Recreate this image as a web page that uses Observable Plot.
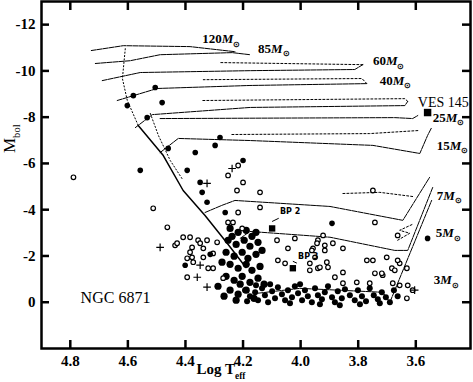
<!DOCTYPE html>
<html><head><meta charset="utf-8">
<script src="https://cdn.jsdelivr.net/npm/d3@7"></script>
<script src="https://cdn.jsdelivr.net/npm/@observablehq/plot@0.6"></script>
<style>body{margin:0;background:#fff} svg{display:block}</style>
</head><body><div id="chart"></div>
<script>
// ---- axis ticks ----
const xTicks = [4.8, 4.6, 4.4, 4.2, 4.0, 3.8, 3.6];
const yTicks = [-12, -10, -8, -6, -4, -2, 0];

// ---- evolutionary tracks [logTeff, Mbol] ----
const track120 = [[4.727,-10.88],[4.616,-11.09],[4.384,-11.05],[4.228,-10.83]];
const track85  = [[4.713,-10.32],[4.592,-10.44],[4.488,-10.70],[4.238,-10.79],[4.176,-10.70]];
const track60  = [[4.689,-9.58],[4.557,-9.93],[4.176,-10.01],[3.812,-10.06],[3.784,-10.27]];
const loop60   = [[3.784,-10.27],[4.280,-10.36]];
const track40  = [[4.637,-8.72],[4.498,-9.24],[4.176,-9.37],[3.770,-9.45]];
const loop40   = [[3.770,-9.45],[3.787,-9.67],[4.338,-9.62]];
const track25  = [[4.574,-7.55],[4.515,-8.11],[4.176,-8.42],[3.638,-8.50],[3.628,-8.68]];
const loop25   = [[3.628,-8.68],[3.638,-8.80],[4.340,-8.72]];
const track25b = [[4.488,-7.94],[3.673,-7.98],[3.611,-7.94],[3.593,-8.07]];
const track15  = [[4.488,-6.47],[4.425,-7.08],[4.176,-6.99],[3.749,-6.78],[3.586,-6.43],[3.559,-7.21],[3.545,-7.55]];
const loop15   = [[3.593,-7.42],[3.760,-7.29],[4.245,-7.25]];
const track7   = [[4.332,-3.88],[4.273,-4.19],[4.228,-4.40],[3.898,-4.14],[3.645,-3.54],[3.552,-5.40]];
const loop7    = [[3.611,-4.57],[3.725,-4.75],[3.853,-4.70]];
const track5   = [[4.210,-2.76],[4.176,-3.06],[3.898,-2.81],[3.673,-2.24],[3.628,-2.24],[3.541,-4.97]];
const loop5    = [[3.663,-2.68],[3.621,-2.98],[3.656,-3.11],[3.611,-3.37]];
const track3   = [[4.148,-0.39],[4.002,-0.60],[3.715,-0.43],[3.690,0.00],[3.545,-4.40]];
const zamsUpper = [[4.609,-10.96],[4.619,-9.67],[4.602,-8.72],[4.564,-7.64]];
const zams      = [[4.564,-7.64],[4.477,-6.34],[4.408,-4.83],[4.332,-3.75],[4.255,-2.55],[4.190,-1.50]];
const tams      = [[4.522,-8.16],[4.494,-7.21],[4.453,-6.13],[4.408,-5.27]];

// ---- track labels ----
const massLabels = ["120","85","60","40","25","15","7","5","3"];
const massLabelX = [4.342, 4.148, 3.749, 3.725, 3.541, 3.527, 3.527, 3.531, 3.538];
const massLabelY = [-11.39, -10.96, -10.44, -9.58, -7.98, -6.78, -4.62, -2.98, -0.95];

// ---- stars [logTeff, Mbol] ----
const starsFilled = [[4.505,-9.28],[4.581,-8.93],[4.602,-8.50],[4.533,-7.98],[4.481,-8.63],[4.557,-5.70],
  [4.460,-6.65],[4.366,-6.47],[4.297,-6.78],[4.280,-7.12],[4.394,-5.70],[4.349,-5.18],[4.342,-4.75],
  [4.325,-4.32],[4.262,-3.88],[4.200,-6.13],[3.891,-3.41],[3.559,-2.76],[4.401,-1.60],[4.314,-2.07]];
const starsOpen = [[4.789,-5.40],[4.512,-4.06],[4.463,-3.24],[4.436,-2.46],[4.384,-2.81],[4.356,-2.68],
  [4.325,-2.68],[4.290,-2.59],[4.377,-2.37],[4.338,-2.33],[4.377,-1.94],[4.304,-1.47],[4.217,-5.91],
  [4.252,-5.48],[4.200,-5.18],[4.221,-4.83],[4.141,-4.75],[4.252,-3.45],[4.235,-3.45],[4.203,-3.19],
  [4.217,-3.88],[4.141,-4.10],[4.082,-2.68],[4.020,-2.76],[3.940,-2.68],[3.916,-2.46],[3.749,-4.83],
  [3.742,-3.45],[3.663,-2.89],[4.044,-2.33],[3.957,-2.33],[4.079,-1.81],[4.054,-1.68],[3.950,-1.94],
  [3.940,-1.47],[3.968,-1.38],[3.905,-1.51],[3.853,-1.29],[3.881,-1.08],[3.770,-1.81],[3.749,-1.81],
  [3.701,-1.94],[3.656,-1.68],[3.631,-1.47],[3.742,-1.25],[3.715,-1.17],[3.683,-1.47],[3.805,-0.86],
  [3.760,-0.82],[3.680,-0.82],[3.611,-0.52],[4.321,-1.47],[4.269,-1.04],[4.429,-2.55],[4.394,-1.90],
  [4.384,-2.16],[4.373,-1.73],[4.338,-1.94],[4.304,-2.11],[4.408,-2.81],[4.349,-2.55],[4.394,-1.08],
  [3.922,-2.89],[3.943,-2.55],[3.961,-2.24],[3.916,-2.24],[3.888,-2.55],[3.853,-2.33],[3.968,-1.68],
  [3.933,-1.51],[3.909,-1.73],[3.853,-0.82],[3.718,-1.25],[3.673,-1.38],[3.663,-1.81],[3.656,-0.73],
  [3.628,-0.73],[3.631,-0.17]];
const starsPlus = [[4.325,-5.14],[4.325,-0.65],[4.488,-2.37],[4.359,-1.08],[4.349,-1.60],[3.604,-0.52],[4.238,-5.78]];
const clusterCore = [[4.245,-3.19],[4.217,-3.02],[4.189,-3.11],[4.169,-2.85],[4.252,-2.68],[4.224,-2.50],
  [4.196,-2.68],[4.176,-2.42],[4.148,-2.59],[4.259,-2.16],[4.231,-1.99],[4.203,-2.16],[4.183,-1.90],
  [4.155,-2.07],[4.134,-2.24],[4.245,-1.64],[4.217,-1.47],[4.189,-1.64],[4.169,-1.38],[4.141,-1.55],
  [4.259,-1.12],[4.231,-0.95],[4.203,-1.12],[4.176,-0.86],[4.148,-1.04],[4.127,-0.78],[4.245,-0.52],
  [4.217,-0.35],[4.189,-0.52],[4.224,-0.09],[4.162,-0.17],[4.210,-0.78],[4.238,-2.85],[4.155,-3.02],
  [4.273,-1.73],[4.287,-0.69],[4.266,-0.26]];
const clusterBand = [[4.193,-0.52],[4.176,-0.26],[4.158,-0.43],[4.148,-0.09],[4.134,-0.60],[4.124,-0.30],
  [4.113,0.00],[4.099,-0.47],[4.089,-0.17],[4.079,-0.65],[4.065,-0.35],[4.054,-0.09],[4.044,-0.52],
  [4.030,-0.22],[4.020,-0.69],[4.009,-0.39],[3.995,-0.09],[3.985,-0.52],[3.975,-0.26],[3.961,0.00],
  [3.950,-0.60],[3.940,-0.30],[3.926,-0.13],[3.916,-0.43],[3.905,-0.69],[3.891,-0.22],[3.881,0.00],
  [3.871,-0.47],[3.857,-0.17],[3.846,-0.56],[3.829,-0.30],[3.812,-0.09],[3.801,-0.52],[3.787,-0.26],
  [3.773,-0.04],[3.760,-0.60],[3.746,-0.30],[3.732,-0.13],[3.718,-0.43],[3.704,-0.22],[3.690,0.00],
  [3.676,-0.52],[3.663,-0.26],[4.186,-0.04],[4.155,-0.73],[4.106,-0.78],[4.037,0.04],[4.002,-0.78],
  [3.933,0.09],[3.864,0.13],[3.794,0.09],[3.725,0.04]];
const vesStar = [[3.559,-8.20]];
const bpStars = [[4.099,-3.19],[4.027,-1.47]];
const bpNames = ["BP 2","BP 3"];
const bpLabelPos = [[4.072,-3.93],[4.009,-1.99]];

// ---- build ----
const W = 473, H = 382, mL = 41, mR = 3, mT = 1, mB = 34;
const innerW = W - mL - mR, innerH = H - mT - mB;
const rows = (arr, name) => arr.map(([logT, M]) => ({logT, M, name}));
const mainTracks = [
  ...rows(track120,"120"), ...rows(track85,"85"), ...rows(track60,"60"), ...rows(track40,"40"),
  ...rows(track25,"25"), ...rows(track25b,"25b"), ...rows(track15,"15"), ...rows(track7,"7"),
  ...rows(track5,"5"), ...rows(track3,"3")];
const loopTracks = [...rows(loop60,"60"), ...rows(loop40,"40"), ...rows(loop25,"25"),
  ...rows(loop15,"15"), ...rows(loop7,"7"), ...rows(loop5,"5")];
const dottedLines = [...rows(zamsUpper,"zu"), ...rows(tams,"tams")];
const labelRows = massLabels.map((m, i) => ({t: `${m}*M*_{⊙}`, logT: massLabelX[i], M: massLabelY[i]}));
const pxy = {x: "logT", y: "M"};

const chart = Plot.plot({
  width: W, height: H, marginLeft: mL, marginRight: mR, marginTop: mT, marginBottom: mB,
  style: {fontFamily: "'Liberation Serif', 'Times New Roman', serif", background: "white", color: "black"},
  x: {domain: [4.9, 3.41]},
  y: {domain: [2, -13]},
  marks: [
    Plot.line(dottedLines, {...pxy, z: "name", stroke: "black", strokeWidth: 1, strokeDasharray: "1.2,2.2"}),
    Plot.line(rows(zams,"zams"), {...pxy, stroke: "black", strokeWidth: 1.5}),
    Plot.line(mainTracks, {...pxy, z: "name", stroke: "black", strokeWidth: 1, strokeDasharray: "5,1"}),
    Plot.line(loopTracks, {...pxy, z: "name", stroke: "black", strokeWidth: 1, strokeDasharray: "2,2"}),
    Plot.dot(rows(clusterCore,"c"), {...pxy, r: 3.6, fill: "black"}),
    Plot.dot(rows(clusterBand,"b"), {...pxy, r: 3, fill: "black"}),
    Plot.dot(rows(starsOpen,"o"), {...pxy, r: 2.3, stroke: "black", strokeWidth: 1.2, fill: "white"}),
    Plot.dot(rows(starsFilled,"f"), {...pxy, r: 2.8, fill: "black"}),
    Plot.dot(rows(starsPlus,"p"), {...pxy, symbol: "plus", r: 2.6, stroke: "black", strokeWidth: 1.2}),
    Plot.dot(rows(vesStar,"v"), {...pxy, symbol: "square", r: 4.2, fill: "black"}),
    Plot.dot(rows(bpStars,"bp"), {...pxy, symbol: "square", r: 3.6, fill: "black"}),
    Plot.link(bpStars.map((s, i) => ({x1: bpLabelPos[i][0] + 0.004, y1: bpLabelPos[i][1] + 0.3, x2: s[0], y2: s[1] - 0.3})),
      {x1: "x1", y1: "y1", x2: "x2", y2: "y2", stroke: "black", strokeWidth: 1}),
    Plot.text(bpNames.map((n, i) => ({t: n, logT: bpLabelPos[i][0], M: bpLabelPos[i][1]})),
      {...pxy, text: "t", fontSize: 8, fontWeight: "bold", fontFamily: "'DejaVu Sans', sans-serif", textAnchor: "start"}),
    Plot.text(labelRows, {...pxy, text: "t", textAnchor: "start", fontSize: 13, fontWeight: "bold"}),
    Plot.text([{t: "VES 145", logT: 3.593, M: -8.63}], {...pxy, text: "t", textAnchor: "start", fontSize: 14}),
    Plot.text([{t: "NGC 6871", logT: 4.643, M: -0.17}], {...pxy, text: "t", textAnchor: "middle", fontSize: 16}),
    Plot.frame({stroke: "black", strokeWidth: 2.5}),
    Plot.ruleX(xTicks, {insetTop: innerH - 8, stroke: "black", strokeWidth: 2.5}),
    Plot.ruleX(xTicks, {insetBottom: innerH - 9, stroke: "black", strokeWidth: 2.5}),
    Plot.ruleY(yTicks, {insetRight: innerW - 8, stroke: "black", strokeWidth: 2.5}),
    Plot.ruleY(yTicks, {insetLeft: innerW - 8, stroke: "black", strokeWidth: 2.5}),
    Plot.axisX(xTicks, {tickSize: 0, tickPadding: 7, fontSize: 15, fontWeight: "bold", tickFormat: d => d.toFixed(1), label: null}),
    Plot.axisY(yTicks, {tickSize: 0, tickPadding: 6, fontSize: 15, fontWeight: "bold", tickFormat: d => String(d), label: null}),
    Plot.text(["Log T_{eff}"], {frameAnchor: "bottom", lineAnchor: "middle", dx: -35, dy: 21, fontSize: 15, fontWeight: "bold"}),
    Plot.text(["M_{bol}"], {frameAnchor: "left", lineAnchor: "middle", rotate: -90, dx: -32, dy: -22, fontSize: 17})
  ]
});
document.getElementById("chart").appendChild(chart);

// rich text: *italic* and _{subscript}
chart.querySelectorAll("text").forEach(el => {
  const s = el.textContent;
  if (!/\*|_\{/.test(s)) return;
  const fs = parseFloat(getComputedStyle(el).fontSize) || 13;
  while (el.firstChild) el.removeChild(el.firstChild);
  const re = /\*([^*]+)\*|_\{([^}]+)\}|([^*_]+)/g;
  let m, shifted = false;
  while ((m = re.exec(s))) {
    const t = document.createElementNS("http://www.w3.org/2000/svg", "tspan");
    if (m[1] !== undefined) { t.textContent = m[1]; t.setAttribute("font-style", "italic"); }
    else if (m[2] !== undefined) {
      t.textContent = m[2]; t.setAttribute("font-size", (fs * 0.62) + "px");
      t.setAttribute("dy", (fs * 0.28) + "px"); shifted = true; el.appendChild(t); continue;
    } else t.textContent = m[3];
    if (shifted) { t.setAttribute("dy", (-fs * 0.28) + "px"); shifted = false; }
    el.appendChild(t);
  }
});
</script></body></html>
